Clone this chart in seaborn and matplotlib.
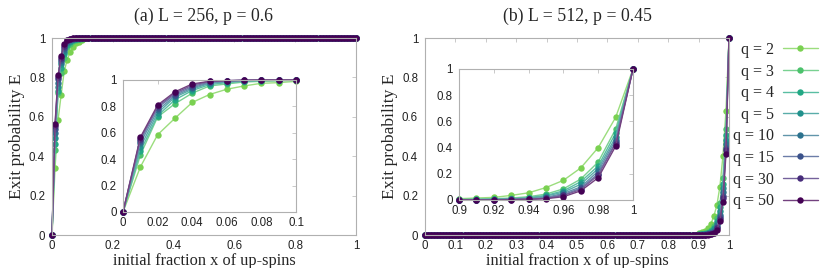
import numpy as np
import pandas as pd
import matplotlib
matplotlib.use("Agg")
import matplotlib.pyplot as plt
import matplotlib.colors as mcolors
import seaborn as sns
from matplotlib.lines import Line2D

sns.set_style("white")
plt.rcParams['font.family'] = ['Liberation Serif', 'DejaVu Serif']

# ---------------- data ----------------
q_values = [2, 3, 4, 5, 10, 15, 30, 50]
q_labels = ["q = 2", "q = 3", "q = 4", "q = 5", "q = 10", "q = 15", "q = 30", "q = 50"]
colors = ["#7ad151", "#4cc26c", "#22a884", "#21918c", "#2c728e", "#3b528b", "#472c7a", "#440154"]

# panel (a): L=256, p=0.6  -- x = 0 .. 0.1 (step 0.01), beyond that E = 1
x_a_low = [0.0, 0.01, 0.02, 0.03, 0.04, 0.05, 0.06, 0.07, 0.08, 0.09, 0.10]
E_a_low = {
    2:  [0, 0.34, 0.585, 0.71, 0.83, 0.89, 0.93, 0.955, 0.975, 0.98, 0.99],
    3:  [0, 0.43, 0.72, 0.82, 0.90, 0.955, 0.97, 0.985, 0.99, 0.993, 0.997],
    4:  [0, 0.46, 0.73, 0.85, 0.92, 0.965, 0.98, 0.99, 0.995, 0.997, 1.0],
    5:  [0, 0.49, 0.75, 0.87, 0.93, 0.975, 0.985, 0.993, 0.997, 1.0, 1.0],
    10: [0, 0.52, 0.77, 0.88, 0.94, 0.98, 0.99, 0.995, 1.0, 1.0, 1.0],
    15: [0, 0.54, 0.79, 0.89, 0.95, 0.985, 0.993, 0.997, 1.0, 1.0, 1.0],
    30: [0, 0.555, 0.80, 0.90, 0.96, 0.99, 0.995, 1.0, 1.0, 1.0, 1.0],
    50: [0, 0.565, 0.81, 0.91, 0.97, 0.99, 0.995, 0.998, 1.0, 1.0, 1.0],
}
E_a_plateau = 1.0

# panel (b): L=512, p=0.45 -- x = 0.9 .. 1.0 (step 0.01), below that E = 0
x_b_high = [0.90, 0.91, 0.92, 0.93, 0.94, 0.95, 0.96, 0.97, 0.98, 0.99, 1.0]
E_b_high = {
    2:  [0.01, 0.015, 0.02, 0.035, 0.055, 0.095, 0.15, 0.245, 0.40, 0.63, 1.0],
    3:  [0.005, 0.007, 0.01, 0.015, 0.025, 0.045, 0.085, 0.16, 0.29, 0.54, 1.0],
    4:  [0.003, 0.005, 0.007, 0.01, 0.018, 0.035, 0.07, 0.14, 0.26, 0.51, 1.0],
    5:  [0.002, 0.003, 0.005, 0.008, 0.014, 0.03, 0.06, 0.12, 0.24, 0.48, 1.0],
    10: [0.001, 0.002, 0.003, 0.006, 0.01, 0.02, 0.05, 0.10, 0.22, 0.46, 1.0],
    15: [0.0, 0.001, 0.002, 0.004, 0.008, 0.015, 0.04, 0.09, 0.20, 0.44, 1.0],
    30: [0.0, 0.0, 0.001, 0.003, 0.006, 0.012, 0.035, 0.08, 0.19, 0.43, 1.0],
    50: [0.0, 0.0, 0.0, 0.002, 0.005, 0.01, 0.025, 0.07, 0.17, 0.41, 1.0],
}
E_b_floor = 0.0

x_grid = np.round(np.linspace(0, 1, 101), 2)

def build_a(full=True):
    rows = []
    for q in q_values:
        xs = list(x_a_low) + ([x for x in x_grid if x > 0.1 + 1e-9] if full else [])
        ys = list(E_a_low[q]) + ([E_a_plateau] * (len(xs) - len(x_a_low)))
        rows += [dict(x=a, E=b, q=q) for a, b in zip(xs, ys)]
    return pd.DataFrame(rows)

def build_b(full=True):
    rows = []
    for q in q_values:
        lows = [x for x in x_grid if x < 0.9 - 1e-9] if full else []
        xs = lows + list(x_b_high)
        ys = [E_b_floor] * len(lows) + list(E_b_high[q])
        rows += [dict(x=a, E=b, q=q) for a, b in zip(xs, ys)]
    return pd.DataFrame(rows)

palette = dict(zip(q_values, colors))

def lighten(c, f=0.3):
    r, g, b = mcolors.to_rgb(c)
    return (r + (1 - r) * f, g + (1 - g) * f, b + (1 - b) * f)

def draw(ax, df, ms):
    sns.lineplot(data=df, x='x', y='E', hue='q', palette=palette, hue_order=q_values,
                 marker='o', markersize=ms, markeredgewidth=0, linewidth=1.0,
                 legend=False, ax=ax, clip_on=False, estimator=None, sort=True)
    for ln, c in zip(ax.lines, colors):
        ln.set_markerfacecolor(c)
        ln.set_markeredgecolor(c)
        ln.set_color(lighten(c, 0.25))

def fmt(v, pos=None):
    return "%g" % v

def style(ax, xticks, yticks, xlim, ylim, xpad, ypad):
    ax.set_xlim(*xlim)
    ax.set_ylim(*ylim)
    ax.set_xticks(xticks)
    ax.set_yticks(yticks)
    ax.set_xticklabels([fmt(v) for v in xticks])
    ax.set_yticklabels([fmt(v) for v in yticks])
    for s in ax.spines.values():
        s.set_color("#b0b0b0")
        s.set_linewidth(0.8)
    ax.tick_params(direction='in', length=3, width=0.6, color="#c0c0c0",
                   top=True, right=True, labelsize=8.3, labelcolor="#222222")
    ax.tick_params(axis='x', pad=xpad)
    ax.tick_params(axis='y', pad=ypad)
    for lab in ax.get_xticklabels() + ax.get_yticklabels():
        lab.set_fontfamily(['Liberation Sans', 'DejaVu Sans'])
    ax.set_xlabel("")
    ax.set_ylabel("")
    ax.grid(False)

fig = plt.figure(figsize=(8.3, 2.68), dpi=100)
W, H = 830, 268
def rect(x0, x1, ytop, ybot):
    return [x0 / W, (H - ybot) / H, (x1 - x0) / W, (ybot - ytop) / H]

axA = fig.add_axes(rect(52, 356, 38, 235))
axB = fig.add_axes(rect(425, 729, 38, 235))
insA = fig.add_axes(rect(123, 296, 80, 212))
insB = fig.add_axes(rect(459, 633, 69, 200))

ticks02 = [0, 0.2, 0.4, 0.6, 0.8, 1]
draw(axA, build_a(True), 4.6)
style(axA, ticks02, ticks02, (0, 1), (0, 1), 3.5, 5)
draw(axB, build_b(True), 4.6)
style(axB, [0, 0.1, 0.2, 0.3, 0.4, 0.5, 0.6, 0.7, 0.8, 0.9, 1], ticks02, (0, 1), (0, 1), 3.5, 5)
draw(insA, build_a(False), 4.6)
style(insA, [0, 0.02, 0.04, 0.06, 0.08, 0.1], ticks02, (0, 0.1), (0, 1), 3.8, 4.5)
draw(insB, build_b(False), 4.6)
style(insB, [0.9, 0.92, 0.94, 0.96, 0.98, 1], ticks02, (0.9, 1), (0, 1), 3.8, 4.5)

for ax, t in [(axA, "(a) L = 256, p = 0.6"), (axB, "(b) L = 512, p = 0.45")]:
    ax.set_title(t, fontsize=12.8, pad=12)
    ax.set_xlabel("initial fraction x of up-spins", fontsize=11.8, labelpad=0.5)
    ax.set_ylabel("Exit probability E", fontsize=12.6, labelpad=3)

handles = [Line2D([0], [0], color=lighten(c, 0.25), lw=1.0, marker='o', markersize=4.6,
                  markerfacecolor=c, markeredgecolor=c, markeredgewidth=0) for c in colors]
fig.legend(handles, q_labels, loc='upper right', bbox_to_anchor=(818 / W, (H - 42) / H),
           frameon=False, markerfirst=False, fontsize=11.5, handlelength=2.2,
           labelspacing=0.35, handletextpad=0.55, borderpad=0, borderaxespad=0)

fig.savefig("out.png", dpi=100)
